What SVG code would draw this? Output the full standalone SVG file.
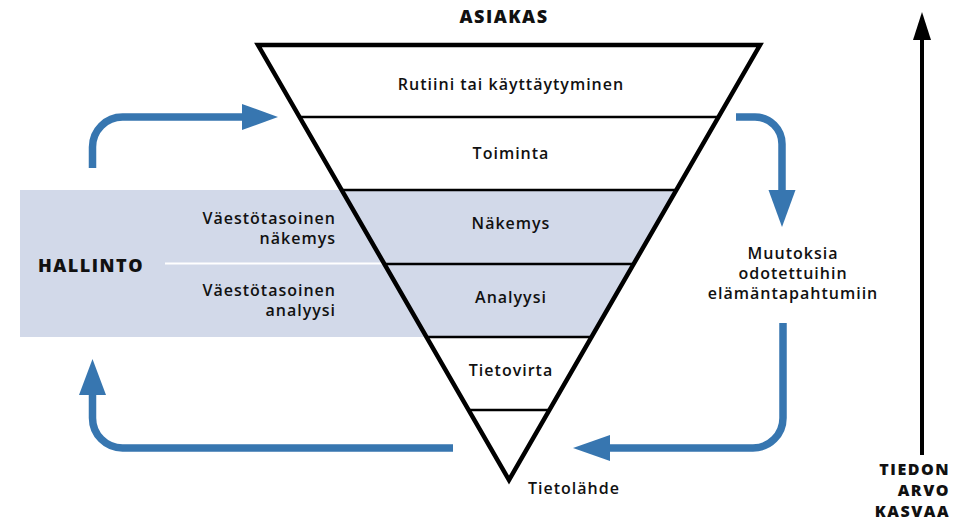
<svg xmlns="http://www.w3.org/2000/svg" width="960" height="523" viewBox="0 0 960 523">
<style>
.t{font-family:"Open Sans","Liberation Sans",sans-serif;font-size:16px;font-weight:600;letter-spacing:1px;fill:#111;}
.b{font-family:"Open Sans","Liberation Sans",sans-serif;font-weight:800;letter-spacing:1.5px;fill:#111;}
.flow{fill:none;stroke:#3776b0;stroke-width:7.5;}
.head{fill:#3776b0;}
.tier{stroke:#000;stroke-width:2.5;}
</style>
<rect width="960" height="523" fill="#fff"/>
<g id="hallinto">
<polygon points="20,190 676,190 591.5,337 20,337" fill="#d2d9e9"/>
<line x1="165" y1="263.5" x2="382" y2="263.5" stroke="#fff" stroke-width="2"/>
<text class="b" x="38" y="272" font-size="18">HALLINTO</text>
<text class="t" x="336" y="224" text-anchor="end">Väestötasoinen</text>
<text class="t" x="336" y="244" text-anchor="end">näkemys</text>
<text class="t" x="336" y="296" text-anchor="end">Väestötasoinen</text>
<text class="t" x="336" y="316" text-anchor="end">analyysi</text>
</g>
<g id="funnel">
<line class="tier" x1="299" y1="117" x2="719" y2="117"/>
<line class="tier" x1="341" y1="190" x2="677" y2="190"/>
<line class="tier" x1="384" y1="264" x2="634" y2="264"/>
<line class="tier" x1="426" y1="337" x2="592" y2="337"/>
<line class="tier" x1="468" y1="410" x2="550" y2="410"/>
<polygon points="258,45 760,45 509,480" fill="none" stroke="#000" stroke-width="4.5" stroke-linejoin="miter"/>
</g>
<g id="asiakas"><text class="b" x="504" y="23" font-size="18" text-anchor="middle">ASIAKAS</text></g>
<g id="rutiini"><text class="t" x="511" y="90" text-anchor="middle">Rutiini tai käyttäytyminen</text></g>
<g id="toiminta"><text class="t" x="511" y="159" text-anchor="middle">Toiminta</text></g>
<g id="nakemys"><text class="t" x="511" y="229" text-anchor="middle">Näkemys</text></g>
<g id="analyysi"><text class="t" x="511" y="303" text-anchor="middle">Analyysi</text></g>
<g id="tietovirta"><text class="t" x="511" y="376" text-anchor="middle">Tietovirta</text></g>
<g id="tietolahde"><text class="t" x="528" y="494">Tietolähde</text></g>
<g id="muutoksia">
<text class="t" x="793" y="259" text-anchor="middle">Muutoksia</text>
<text class="t" x="793" y="279" text-anchor="middle">odotettuihin</text>
<text class="t" x="793" y="299" text-anchor="middle">elämäntapahtumiin</text>
</g>
<g id="arvo">
<line x1="922" y1="455" x2="922" y2="38" stroke="#000" stroke-width="4"/>
<polygon points="913,40 931,40 922,12" fill="#000"/>
<text class="b" x="950" y="475" font-size="16" letter-spacing="2" text-anchor="end">TIEDON</text>
<text class="b" x="950" y="496" font-size="16" letter-spacing="2" text-anchor="end">ARVO</text>
<text class="b" x="950" y="517" font-size="16" letter-spacing="2" text-anchor="end">KASVAA</text>
</g>
<g id="connectors">
<path class="flow" d="M92.5,168 V147 A30,30 0 0 1 122.5,117 H244"/>
<polygon class="head" points="242,104 278,117 242,130"/>
<path class="flow" d="M736,117 H755 A27,27 0 0 1 782,144 V192"/>
<polygon class="head" points="768.5,190 795.5,190 782,227"/>
<path class="flow" d="M783,323 V418 A30,30 0 0 1 753,448 H608"/>
<polygon class="head" points="610,435 610,461 573,448"/>
<path class="flow" d="M453,448 H122.5 A30,30 0 0 1 92.5,418 V393"/>
<polygon class="head" points="79,395 106,395 92.5,359"/>
</g>
</svg>
